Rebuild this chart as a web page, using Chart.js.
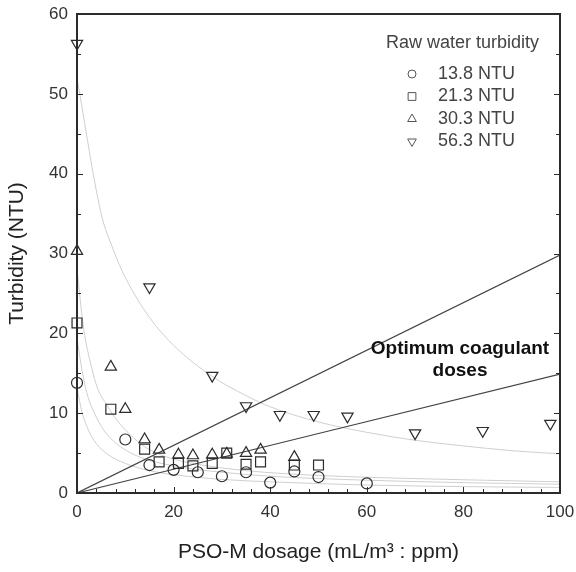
<!DOCTYPE html>
<html>
<head>
<meta charset="utf-8">
<script src="https://cdn.jsdelivr.net/npm/chart.js@4.4.0/dist/chart.umd.min.js"></script>
<style>
html, body { margin: 0; padding: 0; background: #fff; }
</style>
</head>
<body>
<canvas id="canvas" width="576" height="572"></canvas>
<script>
// raw water turbidity series (x = PSO-M dosage, y = turbidity)
var seriesLabels = ['13.8 NTU', '21.3 NTU', '30.3 NTU', '56.3 NTU'];

var doseA = [0, 10, 15, 20, 25, 30, 35, 40, 45, 50, 60];
var turbA = [13.8, 6.7, 3.5, 2.9, 2.6, 2.1, 2.6, 1.3, 2.7, 2.0, 1.2];

var doseB = [0, 7, 14, 17, 21, 24, 28, 31, 35, 38, 45, 50];
var turbB = [21.3, 10.5, 5.5, 3.9, 3.7, 3.4, 3.7, 5.0, 3.6, 3.9, 3.5, 3.5];

var doseC = [0, 7, 10, 14, 17, 21, 24, 28, 31, 35, 38, 45];
var turbC = [30.3, 15.8, 10.5, 6.7, 5.4, 4.8, 4.7, 4.8, 4.9, 5.0, 5.4, 4.5];

var doseD = [0, 15, 28, 35, 42, 49, 56, 70, 84, 98];
var turbD = [56.3, 25.8, 14.7, 10.9, 9.8, 9.8, 9.6, 7.5, 7.8, 8.7];

// fitted curves (light grey)
var fitAx = [0, 1, 2, 3.5, 6, 10, 15, 20, 30, 40, 60, 80, 100];
var fitAy = [13.2, 10.2, 8.4, 6.6, 5.0, 3.7, 2.8, 2.3, 1.7, 1.4, 1.0, 0.8, 0.7];
var fitBx = [0, 1, 2, 4, 6, 9, 13, 20, 30, 40, 60, 80, 100];
var fitBy = [19.5, 15.5, 12.6, 9.5, 7.5, 5.8, 4.5, 3.4, 2.6, 2.1, 1.6, 1.3, 1.1];
var fitCx = [0, 1.4, 3, 4.2, 6.2, 8.3, 11, 14, 18.6, 25, 35, 50, 70, 100];
var fitCy = [28, 20.5, 15.8, 13.2, 11.0, 9.1, 7.3, 5.8, 4.5, 3.6, 2.8, 2.2, 1.8, 1.4];
var fitDx = [0, 5, 7.5, 10, 15, 20, 28, 35, 40, 50, 60, 70, 80, 90, 100];
var fitDy = [52, 35, 30.5, 27, 22, 18.5, 14.6, 12.2, 10.8, 8.9, 7.6, 6.6, 5.9, 5.3, 4.9];

// optimum dose lines
var optX = [0, 100];
var optHigh = [0, 29.8];
var optLow = [0, 14.9];

var xTicks = [0, 20, 40, 60, 80, 100];
var yTicks = [0, 10, 20, 30, 40, 50, 60];

function pts(xs, ys) {
	return xs.map(function(x, i) { return { x: x, y: ys[i] }; });
}

var ink = '#2b2b2b';
var fitColor = '#cfcfcf';
var fam = '"Liberation Sans", Arial, sans-serif';
var markerSize = { circle: 5.5, rect: 7, triangle: 6.5 };

function markerSet(label, xs, ys, style, rot) {
	return {
		label: label,
		data: pts(xs, ys),
		pointStyle: style,
		rotation: rot || 0,
		pointRadius: markerSize[style],
		pointBackgroundColor: 'rgba(0,0,0,0)',
		pointBorderColor: ink,
		pointBorderWidth: 1.2,
		showLine: false,
		clip: false
	};
}

function fitSet(xs, ys, color, width) {
	return {
		label: '',
		data: pts(xs, ys),
		showLine: true,
		borderColor: color,
		borderWidth: width,
		pointRadius: 0,
		cubicInterpolationMode: 'monotone',
		fill: false
	};
}

var frame = {
	id: 'frame',
	afterDraw: function(chart) {
		var c = chart.ctx, a = chart.chartArea;
		var xs = chart.scales.x, ys = chart.scales.y;
		c.save();
		c.strokeStyle = ink;
		c.lineWidth = 1;
		var v, p;
		for (v = 0; v <= 100; v += 4) {
			p = Math.round(xs.getPixelForValue(v)) + 0.5;
			var L = (v % 20 === 0) ? 6 : 4;
			c.beginPath(); c.moveTo(p, a.bottom); c.lineTo(p, a.bottom - L); c.stroke();
		}
		for (v = 0; v <= 60; v += 5) {
			p = Math.round(ys.getPixelForValue(v)) + 0.5;
			var M = (v % 10 === 0) ? 6 : 4;
			c.beginPath(); c.moveTo(a.left, p); c.lineTo(a.left + M, p); c.stroke();
			c.beginPath(); c.moveTo(a.right, p); c.lineTo(a.right - M, p); c.stroke();
		}
		c.lineWidth = 2;
		c.strokeRect(a.left, a.top, a.right - a.left, a.bottom - a.top);

		// legend
		c.font = '18px ' + fam;
		c.textBaseline = 'middle';
		c.textAlign = 'left';
		c.fillStyle = '#444';
		c.fillText('Raw water turbidity', 386, 43);
		var styles = ['circle', 'rect', 'triangle', 'triangle'];
		var rots = [0, 0, 0, 180];
		var sizes = [4, 5.5, 5, 5];
		for (var i = 0; i < seriesLabels.length; i++) {
			var yy = 74 + i * 22.5;
			c.strokeStyle = '#555';
			c.fillStyle = 'rgba(0,0,0,0)';
			c.lineWidth = 1;
			Chart.helpers.drawPoint(c, { pointStyle: styles[i], rotation: rots[i], radius: sizes[i], borderWidth: 1 }, 412, yy);
			c.fillStyle = '#444';
			c.fillText(seriesLabels[i], 438, yy);
		}

		// annotation
		c.fillStyle = '#111';
		c.font = 'bold 19px ' + fam;
		c.textAlign = 'center';
		c.fillText('Optimum coagulant', 460, 349);
		c.fillText('doses', 460, 371);
		c.restore();
	}
};

var ctx = document.getElementById('canvas').getContext('2d');

var myChart = new Chart(ctx, {
	type: 'scatter',
	data: {
		datasets: [
			markerSet(seriesLabels[0], doseA, turbA, 'circle'),
			markerSet(seriesLabels[1], doseB, turbB, 'rect'),
			markerSet(seriesLabels[2], doseC, turbC, 'triangle'),
			markerSet(seriesLabels[3], doseD, turbD, 'triangle', 180),
			fitSet(optX, optHigh, '#444', 1.2),
			fitSet(optX, optLow, '#444', 1.2),
			fitSet(fitAx, fitAy, fitColor, 1),
			fitSet(fitBx, fitBy, fitColor, 1),
			fitSet(fitCx, fitCy, fitColor, 1),
			fitSet(fitDx, fitDy, fitColor, 1)
		]
	},
	options: {
		responsive: false,
		animation: false,
		layout: { padding: { top: 14, right: 16, left: 0, bottom: 0 } },
		plugins: {
			legend: { display: false },
			tooltip: { enabled: false }
		},
		scales: {
			x: {
				type: 'linear',
				min: 0,
				max: 100,
				afterBuildTicks: function(s) { s.ticks = xTicks.map(function(v) { return { value: v }; }); },
				afterFit: function(s) { s.height = 79; s.paddingLeft = 0; s.paddingRight = 0; },
				grid: { display: false, drawTicks: false },
				border: { display: false },
				ticks: { padding: 9, color: '#333', font: { family: fam, size: 17 } },
				title: {
					display: true,
					text: 'PSO-M dosage (mL/m\u00b3 : ppm)',
					color: '#222',
					padding: { top: 0, bottom: 7 },
					font: { family: fam, size: 21 }
				}
			},
			y: {
				type: 'linear',
				min: 0,
				max: 60,
				afterBuildTicks: function(s) { s.ticks = yTicks.map(function(v) { return { value: v }; }); },
				afterFit: function(s) { s.width = 77; s.paddingTop = 0; s.paddingBottom = 0; },
				grid: { display: false, drawTicks: false },
				border: { display: false },
				ticks: { padding: 9, color: '#333', font: { family: fam, size: 17 } },
				title: {
					display: true,
					text: 'Turbidity (NTU)',
					color: '#222',
					padding: { top: 5, bottom: 0 },
					font: { family: fam, size: 21 }
				}
			}
		}
	},
	plugins: [frame]
});
</script>
</body>
</html>
